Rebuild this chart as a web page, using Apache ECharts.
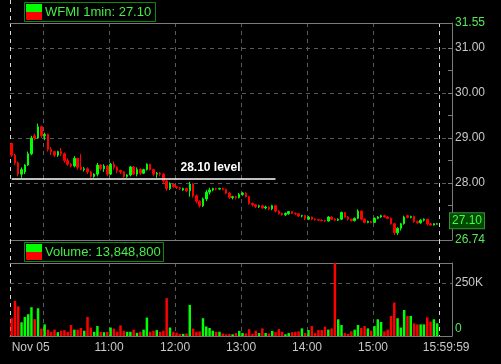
<!DOCTYPE html>
<html><head><meta charset="utf-8">
<script src="https://cdn.jsdelivr.net/npm/echarts@6/dist/echarts.min.js"></script>
<style>html,body{margin:0;padding:0;background:#000;}#c{width:501px;height:364px;}</style>
</head><body><div id="c"></div>
<script>
// ---- data ----
const symbolName = 'WFMI';
const intervalLabel = '1min';
const volumeTotal = '13,848,800';
// [open, close, low, high] per 3-minute slot from 09:30
const candles = [
[28.88,28.62,28.58,28.90],[28.62,28.45,28.40,28.65],[28.45,28.20,28.15,28.48],[28.20,28.30,28.12,28.35],[28.25,28.40,28.20,28.42],
[28.40,28.65,28.38,28.70],[28.65,29.00,28.62,29.05],[29.05,29.00,28.95,29.10],[29.00,29.25,28.98,29.32],[29.25,29.05,29.00,29.28],
[29.05,29.08,28.95,29.12],[29.08,28.75,28.70,29.10],[28.75,28.70,28.62,28.80],[28.70,28.62,28.58,28.72],[28.62,28.70,28.58,28.72],
[28.70,28.65,28.60,28.78],[28.65,28.50,28.45,28.68],[28.50,28.42,28.38,28.55],[28.42,28.38,28.35,28.45],[28.38,28.55,28.35,28.60],
[28.55,28.35,28.30,28.56],[28.35,28.30,28.28,28.65],[28.30,28.32,28.26,28.36],[28.32,28.25,28.20,28.35],[28.25,28.15,28.12,28.27],
[28.15,28.20,28.12,28.22],[28.20,28.40,28.15,28.45],[28.40,28.32,28.28,28.42],[28.32,28.38,28.25,28.42],[28.38,28.20,28.15,28.40],
[28.20,28.42,28.18,28.45],[28.42,28.35,28.30,28.48],[28.35,28.28,28.22,28.38],[28.28,28.25,28.20,28.30],[28.25,28.15,28.12,28.27],
[28.15,28.18,28.12,28.20],[28.18,28.36,28.15,28.38],[28.36,28.20,28.18,28.38],[28.20,28.30,28.15,28.35],[28.30,28.22,28.18,28.33],
[28.22,28.30,28.20,28.32],[28.30,28.42,28.28,28.44],[28.42,28.30,28.28,28.43],[28.30,28.20,28.15,28.32],[28.20,28.22,28.12,28.25],
[28.22,28.20,28.15,28.25],[28.20,28.05,28.00,28.22],[28.05,27.88,27.83,28.07],[27.88,27.98,27.85,28.02],[27.98,27.92,27.90,28.00],
[27.92,27.90,27.87,27.94],[27.90,27.88,27.85,27.92],[27.85,27.88,27.83,27.90],[27.88,27.83,27.80,27.90],[27.83,27.98,27.70,28.03],
[27.98,27.72,27.68,28.00],[27.72,27.60,27.55,27.75],[27.60,27.50,27.46,27.62],[27.50,27.65,27.47,27.68],[27.65,27.80,27.60,27.85],
[27.80,27.85,27.75,27.90],[27.85,27.88,27.82,27.90],[27.88,27.87,27.84,27.90],[27.87,27.88,27.85,27.90],[27.88,27.86,27.84,27.90],
[27.86,27.78,27.75,27.88],[27.78,27.68,27.65,27.80],[27.68,27.70,27.64,27.72],[27.70,27.68,27.64,27.72],[27.68,27.75,27.66,27.78],
[27.75,27.78,27.72,27.80],[27.78,27.70,27.68,27.80],[27.70,27.55,27.52,27.72],[27.55,27.52,27.48,27.57],[27.52,27.48,27.45,27.54],
[27.48,27.50,27.45,27.52],[27.50,27.45,27.43,27.52],[27.45,27.47,27.42,27.50],[27.47,27.43,27.40,27.48],[27.43,27.50,27.40,27.52],
[27.50,27.38,27.35,27.52],[27.38,27.33,27.30,27.40],[27.33,27.30,27.28,27.35],[27.30,27.33,27.27,27.35],[27.32,27.37,27.30,27.38],
[27.37,27.33,27.32,27.38],[27.33,27.32,27.30,27.35],[27.32,27.27,27.25,27.33],[27.27,27.28,27.24,27.30],[27.28,27.22,27.18,27.30],
[27.20,27.25,27.18,27.27],[27.25,27.20,27.18,27.26],[27.20,27.19,27.17,27.22],[27.19,27.18,27.16,27.21],[27.18,27.17,27.15,27.20],
[27.17,27.16,27.14,27.19],[27.16,27.25,27.15,27.27],[27.25,27.20,27.18,27.26],[27.20,27.18,27.16,27.22],[27.18,27.20,27.16,27.22],
[27.20,27.35,27.18,27.37],[27.35,27.25,27.23,27.36],[27.25,27.20,27.17,27.27],[27.20,27.17,27.15,27.21],[27.17,27.22,27.15,27.24],
[27.22,27.38,27.20,27.42],[27.38,27.20,27.18,27.40],[27.20,27.13,27.11,27.22],[27.13,27.15,27.11,27.17],[27.15,27.13,27.11,27.16],
[27.13,27.22,27.12,27.24],[27.22,27.25,27.20,27.27],[27.25,27.28,27.23,27.30],[27.28,27.25,27.23,27.30],[27.25,27.22,27.20,27.27],
[27.22,27.10,27.08,27.24],[27.10,26.90,26.85,27.12],[26.90,27.00,26.85,27.02],[27.00,27.10,26.95,27.12],[27.10,27.25,27.08,27.28],
[27.28,27.24,27.22,27.30],[27.24,27.26,27.22,27.28],[27.26,27.15,27.12,27.28],[27.15,27.12,27.10,27.17],[27.12,27.18,27.10,27.20],
[27.18,27.20,27.15,27.22],[27.20,27.10,27.06,27.21],[27.10,27.07,27.05,27.12],[27.07,27.10,27.06,27.11],[27.09,27.10,27.08,27.12]
];
// volume per slot, thousands of shares
const volumesK = [
84,166,140,65,90,103,136,80,131,35,
55,30,20,30,18,25,28,20,52,30,
30,38,25,90,40,20,47,20,18,20,
40,35,20,50,25,20,20,30,15,20,
30,87,20,25,28,20,25,179,40,20,
15,10,10,12,147,35,20,22,84,45,
38,25,20,20,12,8,10,8,14,24,
14,12,32,10,25,14,36,14,12,24,
18,32,20,8,14,18,20,22,36,14,
28,47,14,28,28,44,30,36,345,79,
52,14,10,22,30,52,38,47,36,25,
47,79,66,22,30,95,158,84,40,123,
95,95,60,55,55,55,88,68,79,60
];
const priceLabels = [26.74, 28, 29, 30, 31, 31.55];
const priceTicks = [27.5, 28, 28.5, 29, 29.5, 30, 30.5, 31];
const priceGridValues = [28, 29, 30, 31];
const volumeLabels = [0, 250];
const volumeGridValues = [250];
const timeLabelIndex = [0, 30, 50, 70, 90, 110, 129];
const timeLabels = ['Nov 05', '11:00', '12:00', '13:00', '14:00', '15:00', '15:59:59'];
const hourLineIndex = [0, 10, 30, 50, 70, 90, 110, 130];
const levelPrice = 28.10, levelLabel = '28.10 level', levelEndIndex = 80;
const priceMin = 26.74, priceMax = 31.55, volMax = 345;
const padSlots = 4;

// ---- build ----
const total = candles.length + padSlots;
const categories = [];
for (let i = 0; i < total; i++) {
  const m = 9 * 60 + 30 + i * 3;
  categories.push(String(Math.floor(m / 60)).padStart(2, '0') + ':' + String(m % 60).padStart(2, '0'));
}
const candleData = candles.concat(Array(padSlots).fill('-'));
const UP = '#00ff00', DOWN = '#ff0000';
const volData = volumesK.map((v, i) => ({
  value: v,
  itemStyle: { color: candles[i][1] >= candles[i][0] ? UP : DOWN }
})).concat(Array(padSlots).fill('-'));
const lastClose = candles[candles.length - 1][1];

const FONT = 'Liberation Sans';
const AXIS = '#7a7a7a', GRID = '#5a5a5a', WHITE_DASH = '#d8d8d8';
const LABEL_GRAY = '#c8c8c8', LABEL_GREEN = '#55e855';

const vSplit = {
  show: true,
  interval: (i) => hourLineIndex.includes(i),
  showMaxLine: false,
  lineStyle: {
    color: hourLineIndex.map(i => (i === 0 || i === candles.length) ? WHITE_DASH : GRID),
    type: [4, 4], width: 1
  }
};
function catAxis(grid, extra) {
  return Object.assign({
    type: 'category', gridIndex: grid, data: categories, boundaryGap: true,
    axisTick: { show: false }, axisLabel: { show: false },
    axisLine: { show: true, lineStyle: { color: AXIS, width: 1 } },
    splitLine: { show: false }
  }, extra);
}

const chart = echarts.init(document.getElementById('c'), null, { renderer: 'canvas' });
const option = {
  backgroundColor: '#000',
  animation: false,
  textStyle: { fontFamily: FONT },
  grid: [
    { left: 10, right: 49, top: 23, height: 217 },
    { left: 10, right: 49, top: 263, height: 73 }
  ],
  xAxis: [
    catAxis(0, { position: 'bottom', splitLine: vSplit }),
    catAxis(0, { position: 'top' }),
    catAxis(1, {
      position: 'bottom', splitLine: vSplit,
      axisLabel: {
        show: true, margin: 6,
        interval: (i) => timeLabelIndex.includes(i),
        formatter: (v, i) => {
          const k = timeLabelIndex.indexOf(i);
          if (k < 0) return '';
          if (k === 0) return '{l|' + timeLabels[k] + '}';
          if (k === timeLabels.length - 1) return '{r|' + timeLabels[k] + '}';
          return '{n|' + timeLabels[k] + '}';
        },
        rich: {
          l: { color: LABEL_GRAY, fontSize: 12, fontFamily: FONT, padding: [0, 0, 0, 38] },
          r: { color: LABEL_GRAY, fontSize: 12, fontFamily: FONT, padding: [0, 0, 0, 18] },
          n: { color: LABEL_GRAY, fontSize: 12, fontFamily: FONT, padding: [0, 3, 0, 0] }
        }
      }
    }),
    catAxis(1, { position: 'top' })
  ],
  yAxis: [
    {
      type: 'value', gridIndex: 0, position: 'right', min: priceMin, max: priceMax,
      axisLine: { show: true, lineStyle: { color: AXIS } },
      axisTick: { show: true, inside: true, length: 4, customValues: priceTicks, lineStyle: { color: AXIS } },
      axisLabel: {
        show: true, margin: 3, customValues: priceLabels,
        formatter: (v) => (v === priceMin || v === priceMax) ? '{g|' + v.toFixed(2) + '}' : '{w|' + v.toFixed(2) + '}',
        rich: {
          g: { color: LABEL_GREEN, fontSize: 12, fontFamily: FONT },
          w: { color: LABEL_GRAY, fontSize: 12, fontFamily: FONT }
        }
      },
      splitLine: { show: false }
    },
    {
      type: 'value', gridIndex: 0, position: 'right', min: priceMin, max: priceMax,
      axisLine: { show: false },
      axisTick: { show: false, customValues: priceGridValues },
      axisLabel: { show: false },
      splitLine: { show: true, lineStyle: { color: GRID, type: [4, 4], width: 1 } }
    },
    {
      type: 'value', gridIndex: 1, position: 'right', min: 0, max: volMax,
      axisLine: { show: true, lineStyle: { color: AXIS } },
      axisTick: { show: false, customValues: volumeGridValues },
      axisLabel: {
        show: true, margin: 3, customValues: volumeLabels,
        formatter: (v) => v === 0 ? '{g|0}' : '{w|' + v + 'K}',
        rich: {
          g: { color: LABEL_GREEN, fontSize: 12, fontFamily: FONT, padding: [0, 0, 14, 0] },
          w: { color: LABEL_GRAY, fontSize: 12, fontFamily: FONT }
        }
      },
      splitLine: { show: true, lineStyle: { color: GRID, type: [4, 4], width: 1 } }
    }
  ],
  series: [
    {
      type: 'candlestick', xAxisIndex: 0, yAxisIndex: 0, data: candleData,
      barWidth: 2,
      itemStyle: { color: UP, color0: DOWN, borderColor: UP, borderColor0: DOWN, borderColorDoji: UP, borderWidth: 1 },
      markLine: {
        silent: true, symbol: ['none', 'none'], animation: false,
        data: [
          [
            {
              coord: [categories[0], levelPrice],
              lineStyle: { color: '#ffffff', width: 1.5, type: 'solid' },
              label: {
                show: true, position: 'insideEndTop', formatter: levelLabel,
                color: '#ffffff', fontWeight: 'bold', fontSize: 12, fontFamily: FONT, distance: [35, 5]
              }
            },
            { coord: [categories[levelEndIndex], levelPrice] }
          ]
        ]
      }
    },
    {
      type: 'bar', xAxisIndex: 2, yAxisIndex: 2, data: volData,
      barCategoryGap: '25%'
    }
  ],
  graphic: [
    {
      type: 'group', left: 24, top: 2, z: 10,
      children: [
        { type: 'rect', shape: { x: 0.5, y: 0.5, width: 131, height: 19 }, style: { fill: '#000', stroke: '#0a8c0a', lineWidth: 1 } },
        { type: 'rect', shape: { x: 2, y: 2, width: 16, height: 8 }, style: { fill: UP } },
        { type: 'rect', shape: { x: 2, y: 10, width: 16, height: 8 }, style: { fill: DOWN } },
        { type: 'text', x: 21, y: 10, style: { text: symbolName + ' ' + intervalLabel + ': ' + lastClose.toFixed(2), fill: '#44ee44', font: '13px "Liberation Sans"', verticalAlign: 'middle' } }
      ]
    },
    {
      type: 'group', left: 24, top: 242, z: 10,
      children: [
        { type: 'rect', shape: { x: 0.5, y: 0.5, width: 139, height: 19 }, style: { fill: '#000', stroke: '#0a8c0a', lineWidth: 1 } },
        { type: 'rect', shape: { x: 2, y: 2, width: 16, height: 8 }, style: { fill: UP } },
        { type: 'rect', shape: { x: 2, y: 10, width: 16, height: 8 }, style: { fill: DOWN } },
        { type: 'text', x: 21, y: 10, style: { text: 'Volume: ' + volumeTotal, fill: '#44ee44', font: '13px "Liberation Sans"', verticalAlign: 'middle' } }
      ]
    }
  ]
};
chart.setOption(option);

// Extra decorations positioned from the axes: white session lines through the panel gap,
// and the last-price tag on the price axis.
const p0 = chart.convertToPixel({ xAxisIndex: 0 }, categories[0]);
const p1 = chart.convertToPixel({ xAxisIndex: 0 }, categories[1]);
const band = p1 - p0;
const xStart = Math.round(p0 - band / 2) + 0.5;
const xEnd = Math.round(chart.convertToPixel({ xAxisIndex: 0 }, categories[candles.length - 1]) + band / 2) + 0.5;
const yTop = chart.convertToPixel({ yAxisIndex: 0 }, priceMax);
const yBot = chart.convertToPixel({ yAxisIndex: 0 }, priceMin);
const yVolTop = chart.convertToPixel({ yAxisIndex: 2 }, volMax);
const yLast = chart.convertToPixel({ yAxisIndex: 0 }, lastClose);
const xAxisRight = chart.getWidth() - 49;
const dashStyle = { stroke: WHITE_DASH, lineWidth: 1, lineDash: [4, 4] };
chart.setOption({
  graphic: option.graphic.concat([
    { type: 'line', z: 1, shape: { x1: xStart, y1: 0, x2: xStart, y2: yTop }, style: dashStyle },
    { type: 'line', z: 1, shape: { x1: xStart, y1: yBot, x2: xStart, y2: yVolTop }, style: dashStyle },
    { type: 'line', z: 1, shape: { x1: xEnd, y1: yBot, x2: xEnd, y2: yVolTop }, style: dashStyle },
    {
      type: 'text', z: 20, x: xAxisRight - 2, y: yLast - 3,
      style: {
        text: lastClose.toFixed(2), fill: '#40ff40', font: '12px "Liberation Sans"',
        verticalAlign: 'middle', align: 'left',
        backgroundColor: '#004a00', borderColor: '#3c8c3c', borderWidth: 1, padding: [2, 2, 1, 2]
      }
    }
  ])
});
</script></body></html>
